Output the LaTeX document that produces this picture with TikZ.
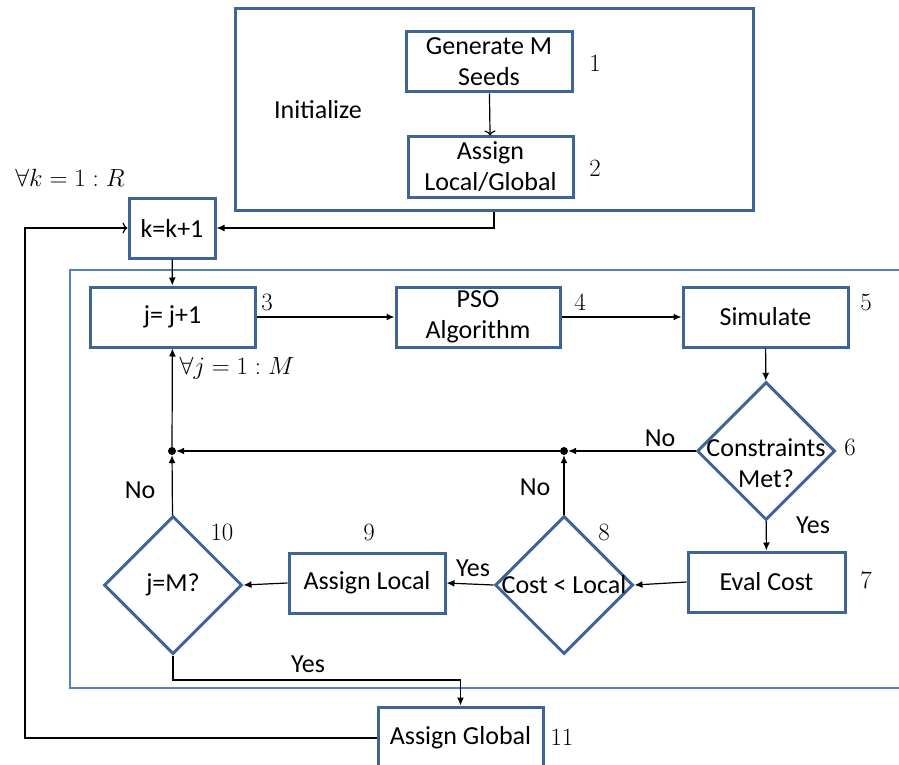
\documentclass[tikz,border=0pt]{standalone}
\usepackage{fontspec}
\setmainfont{Carlito}
\usetikzlibrary{arrows.meta,shapes.geometric}
\definecolor{boxblue}{RGB}{63,100,150}
\definecolor{outerblue}{RGB}{84,130,190}
\tikzset{
  txt/.style={font=\fontsize{26}{31}\selectfont, align=center, inner sep=0pt},
  stepbox/.style={draw=boxblue, line width=3pt, inner sep=0pt, align=center, font=\fontsize{26}{31}\selectfont},
  dia/.style={diamond, draw=boxblue, line width=3pt, minimum width=138pt, minimum height=138pt, inner sep=0pt, aspect=1},
  num/.style={font=\fontsize{24}{28}\selectfont, inner sep=0pt},
  conn/.style={line width=1.2pt, -{Latex[length=8pt,width=7pt]}},
  openconn/.style={line width=1.2pt, -{To[length=5pt,width=11pt]}},
  dot/.style={circle, fill=black, inner sep=0pt, minimum size=8pt}
}
\begin{document}
\begin{tikzpicture}[x=1pt,y=-1pt]
\useasboundingbox (0,0) rectangle (899,765);
% outer boxes
\node[draw=boxblue, line width=3pt, minimum width=518pt, minimum height=201pt] (init) at (494,109.5) {};
\node[draw=outerblue, line width=2.8pt, minimum width=840pt, minimum height=418pt] (loop) at (490,479) {};
\node[txt] (initlbl) at (318,110) {Initialize};
% boxes
\node[stepbox, minimum width=166pt, minimum height=60pt] (gen) at (489,62) {Generate M\\Seeds};
\node[stepbox, minimum width=165pt, minimum height=60pt] (asg) at (490.5,167) {Assign\\Local/Global};
\node[stepbox, minimum width=86pt, minimum height=60pt] (kbox) at (172,228) {k=k+1};
\node[stepbox, minimum width=165pt, minimum height=60pt] (jbox) at (172.5,317) {j= j+1};
\node[stepbox, minimum width=164pt, minimum height=60pt] (pso) at (478,317) {PSO\\Algorithm};
\node[stepbox, minimum width=165pt, minimum height=60pt] (sim) at (765.5,317) {Simulate};
\node[stepbox, minimum width=157pt, minimum height=60pt] (eval) at (766.5,582) {Eval Cost};
\node[stepbox, minimum width=156pt, minimum height=60pt] (al) at (367,583) {Assign Local};
\node[stepbox, minimum width=165pt, minimum height=62pt] (ag) at (460.5,738) {Assign Global};
% diamonds
\node[dia] (d6) at (766,451) {};
\node[dia] (d8) at (564,585) {};
\node[dia] (d10) at (173,585) {};
\node[txt] (t6) at (766,463) {Constraints\\Met?};
\node[txt] (t8) at (564,585) {Cost < Local};
\node[txt] (t10) at (173,585) {j=M?};
% junctions
\node[dot] (j1) at (172,451) {};
\node[dot] (j2) at (564,451) {};
\coordinate (yc) at (173,680);
\coordinate (lp) at (25,228);
% connectors
\draw[openconn] (gen) -- (asg);
\draw[conn] (init.south) |- (kbox.east);
\draw[conn] (kbox) -- (jbox);
\draw[conn] (jbox) -- (pso);
\draw[conn] (pso) -- (sim);
\draw[conn] (sim) -- (d6);
\draw[conn] (d6) -- (j2);
\draw[conn] (j2) -- (j1);
\draw[conn] (j1) -- (jbox);
\draw[conn] (d6) -- (eval);
\draw[conn] (eval.west) -- (d8.east);
\draw[conn] (d8.west) -- (al.east);
\draw[conn] (al.west) -- (d10.east);
\draw[conn] (d8) -- (j2);
\draw[conn] (d10) -- (j1);
\draw[conn] (d10.south) -- (yc) -| (ag.north);
\draw[openconn] (ag.west) -| (lp) -- (kbox.west);
% labels
\node[txt] (no1) at (660,438) {No};
\node[txt] (no2) at (535,487) {No};
\node[txt] (no3) at (140,490) {No};
\node[txt] (yes1) at (813,525) {Yes};
\node[txt] (yes2) at (473,568) {Yes};
\node[txt] (yes3) at (308,664) {Yes};
% numbers
\node[num] (n1) at (595,63) {$1$};
\node[num] (n2) at (595,168) {$2$};
\node[num] (n3) at (267,302) {$3$};
\node[num] (n4) at (580,302) {$4$};
\node[num] (n5) at (866,302) {$5$};
\node[num] (n6) at (850,447) {$6$};
\node[num] (n7) at (866,580) {$7$};
\node[num] (n8) at (604,532) {$8$};
\node[num] (n9) at (369,532) {$9$};
\node[num] (n10) at (222,532) {$10$};
\node[num] (n11) at (562,737) {$11$};
\node[num] (fk) at (70,178) {$\forall k=1:R$};
\node[num] (fj) at (237,368) {$\forall j=1:M$};
\end{tikzpicture}
\end{document}
